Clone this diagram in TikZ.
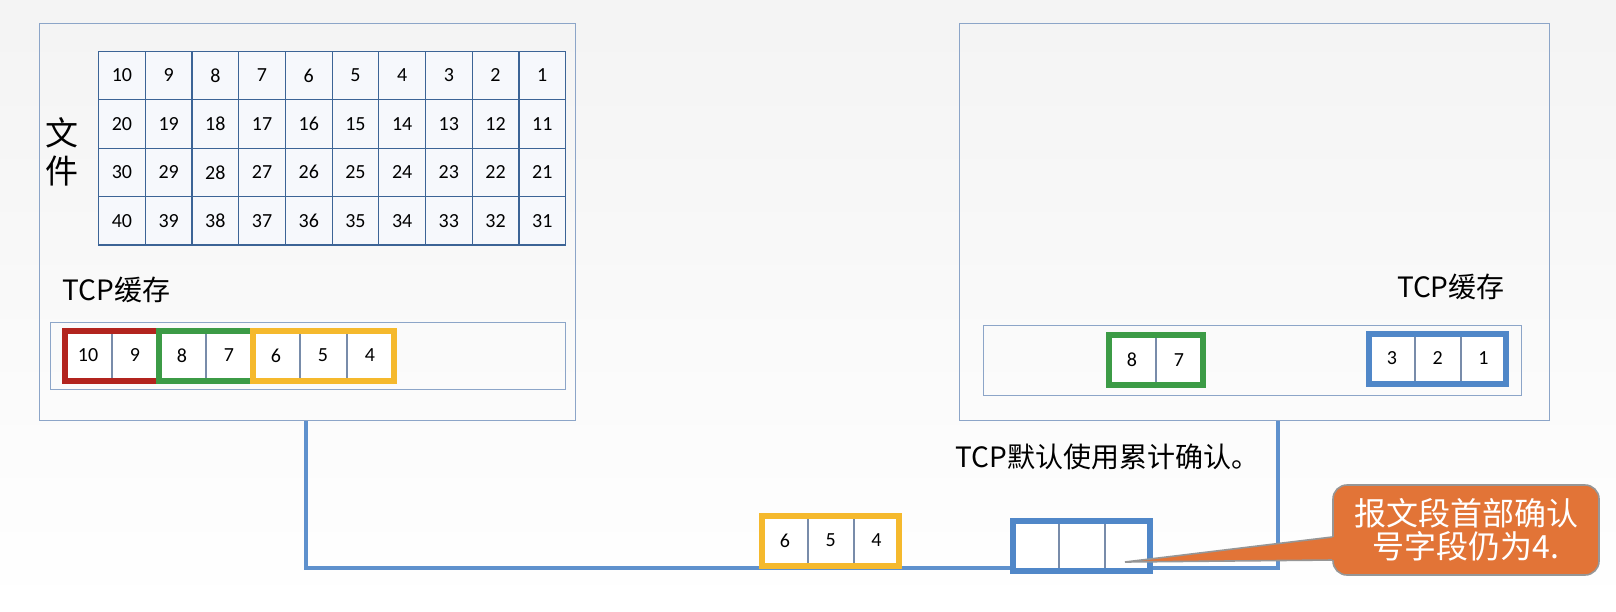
\documentclass[tikz,border=0pt]{standalone}
\usepackage{fontspec}
\setmainfont{Carlito}
\newfontfamily\cjk{Noto Sans CJK SC}
\usetikzlibrary{positioning,fit}
\definecolor{hostline}{RGB}{140,165,200}
\definecolor{gridline}{RGB}{60,100,150}
\definecolor{cellfill}{RGB}{246,248,252}
\definecolor{pcellline}{RGB}{120,140,170}
\definecolor{segred}{RGB}{178,36,30}
\definecolor{seggreen}{RGB}{60,155,70}
\definecolor{segyellow}{RGB}{245,185,45}
\definecolor{segblue}{RGB}{80,135,200}
\definecolor{linkblue}{RGB}{95,145,205}
\definecolor{noteorange}{RGB}{226,116,55}
\definecolor{noteedge}{RGB}{150,150,150}

\begin{document}
\begin{tikzpicture}[x=0.5pt,y=-0.5pt,
  host/.style={rectangle,draw=hostline,line width=0.7pt,anchor=north west,
        inner sep=0pt},
  filecell/.style={rectangle,draw=gridline,fill=cellfill,line width=0.6pt,
        minimum width=23.35pt,minimum height=24.2pt,inner sep=0pt,
        anchor=north west,font=\fontsize{10}{12}\selectfont},
  pcell/.style={rectangle,draw=pcellline,fill=white,line width=0.5pt,
        minimum width=23pt,minimum height=24.5pt,inner sep=0pt,
        font=\fontsize{10}{12}\selectfont},
  narrow/.style={minimum width=22.35pt},
  segbox/.style={rectangle,draw=#1,line width=3pt,inner sep=0pt},
  cntext/.style={font=\cjk\fontsize{14}{17}\selectfont,inner sep=0pt},
  note/.style={rectangle,rounded corners=7pt,fill=noteorange,draw=noteedge,
        line width=0.8pt,minimum width=133pt,minimum height=45pt,text=white,
        align=center,font=\cjk\fontsize{16}{16.5}\selectfont},
  link/.style={draw=linkblue,line width=2pt}]
  \shade[top color=gray!9,bottom color=white] (0,0) rectangle (1616,611);
  \useasboundingbox (0,0) rectangle (1616,611);

  \node[host,minimum width=268pt,minimum height=198.5pt] (hostA) at (39,23) {};
  \node[host,minimum width=295pt,minimum height=198.5pt] (hostB) at (959,23) {};

  \foreach \r in {0,...,3}
    \foreach \c in {0,...,9}{
      \pgfmathtruncatemacro\num{10*\r+10-\c}
      \node[filecell] (f\r\c) at (98+46.7*\c,50.7+48.4*\r) {\num};
    }
  \node[cntext,font=\cjk\fontsize{16.5}{19}\selectfont,align=center]
    (fileTitle) at (62,152) {文\\件};

  \node[cntext,anchor=west] (bufTitleA) at (62,290) {TCP缓存};
  \node[host,minimum width=257.5pt,minimum height=33.5pt] (bufA) at (49.6,321.7) {};
  \node[pcell] (a10) at (88,355.5) {10};
  \node[pcell,right=0pt of a10] (a9) {9};
  \node[pcell,right=0pt of a9] (a8) {8};
  \node[pcell,right=0pt of a8] (a7) {7};
  \node[pcell,right=0pt of a7] (a6) {6};
  \node[pcell,right=0pt of a6] (a5) {5};
  \node[pcell,right=0pt of a5] (a4) {4};
  \node[segbox=segred,fit=(a10)(a9)] (redA) {};
  \node[segbox=seggreen,fit=(a8)(a7)] (greenA) {};
  \node[segbox=segyellow,fit=(a6)(a4)] (yellowA) {};

  \node[cntext,anchor=east] (bufTitleB) at (1505,287) {TCP缓存};
  \node[host,minimum width=269pt,minimum height=35pt] (bufB) at (983,325) {};
  \node[pcell] (b8) at (1132,360) {8};
  \node[pcell,right=0pt of b8] (b7) {7};
  \node[pcell,narrow] (b3) at (1392,358.5) {3};
  \node[pcell,narrow,right=0pt of b3] (b2) {2};
  \node[pcell,narrow,right=0pt of b2] (b1) {1};
  \node[segbox=seggreen,fit=(b8)(b7)] (greenB) {};
  \node[segbox=segblue,fit=(b3)(b1)] (blueB) {};

  \coordinate (portA) at ([xshift=133.5pt]hostA.south west);
  \coordinate (portB) at ([xshift=159.5pt]hostB.south west);
  \draw[link] (portA) -- ++(0,147) -| (portB);

  \node[pcell,narrow] (s6) at (785,540.5) {6};
  \node[pcell,narrow,right=0pt of s6] (s5) {5};
  \node[pcell,narrow,right=0pt of s5] (s4) {4};
  \node[segbox=segyellow,fit=(s6)(s4)] (segment) {};

  \node[pcell,narrow] (k1) at (1036,546) {};
  \node[pcell,narrow,right=0pt of k1] (k2) {};
  \node[pcell,narrow,right=0pt of k2] (k3) {};
  \node[segbox=segblue,fit=(k1)(k3)] (ackSeg) {};

  \node[cntext,anchor=west] (ackRule) at (955,457) {TCP默认使用累计确认。};

  \node[note] (ackNote) at (1466,530) {报文段首部确认\\号字段仍为4.};
  \coordinate (ackTip) at (1125,562);
  \fill[noteorange] ([xshift=1pt,yshift=-3.5pt]ackNote.west) -- (ackTip)
    -- ([xshift=1pt,yshift=-15pt]ackNote.west) -- cycle;
  \draw[noteedge,line width=0.8pt] ([yshift=-3.5pt]ackNote.west) -- (ackTip)
    -- ([yshift=-15pt]ackNote.west);
\end{tikzpicture}
\end{document}
